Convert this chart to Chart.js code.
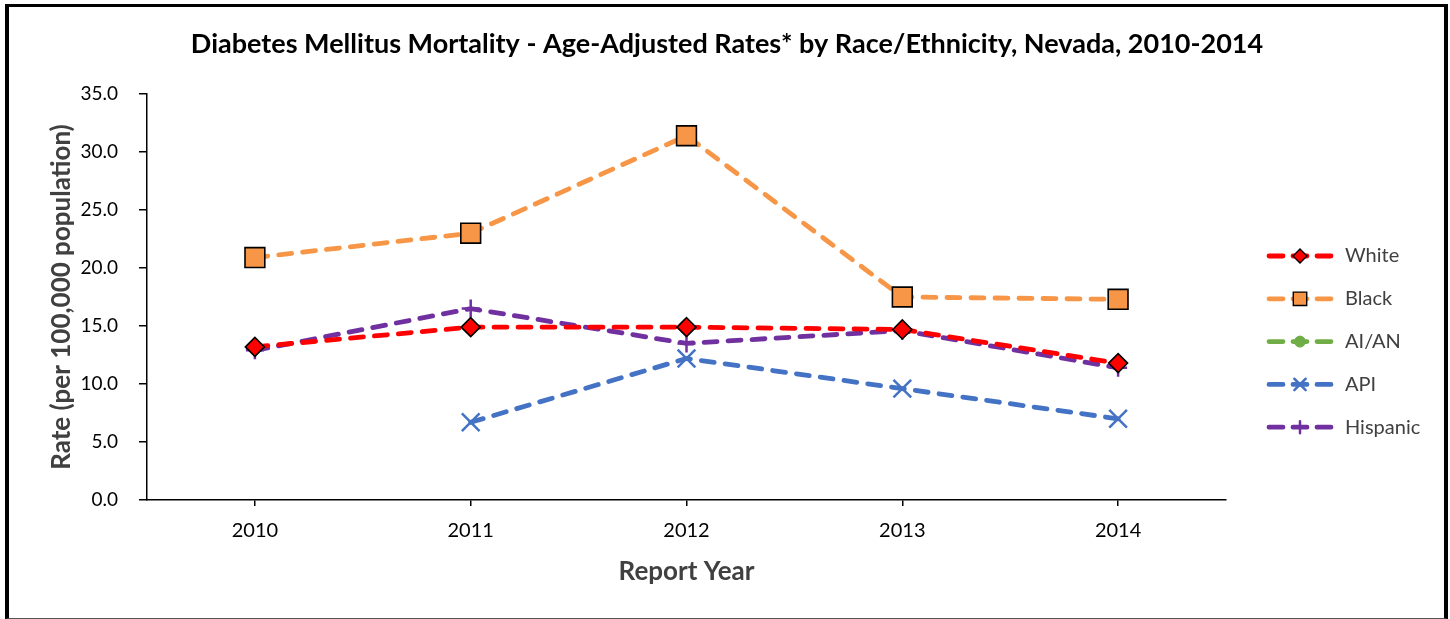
<!DOCTYPE html>
<html>
<head>
<meta charset="utf-8">
<script src="https://cdn.jsdelivr.net/npm/chart.js@4.4.1/dist/chart.umd.min.js"></script>
<style>
  html, body { margin: 0; padding: 0; background: #fff; }
  #wrap { position: relative; width: 1450px; height: 619px; overflow: hidden; }
  #c { position: absolute; left: 0; top: 0; }
  #frame { position: absolute; left: 5px; top: 4px; width: 1443px; height: 615px; box-sizing: border-box;
           border-left: 4px solid #000; border-top: 3px solid #000; border-right: 4px solid #000; border-bottom: 1px solid #555; pointer-events: none; }
</style>
</head>
<body>
<div id="wrap">
  <canvas id="c" width="1450" height="619"></canvas>
  <div id="frame"></div>
</div>
<script>
const years = ['2010', '2011', '2012', '2013', '2014'];
const seriesNames = ['White', 'Black', 'AI/AN', 'API', 'Hispanic'];
const white    = [13.2, 14.9, 14.9, 14.7, 11.8];
const black    = [20.9, 23.0, 31.4, 17.5, 17.3];
const aian     = [null, null, null, null, null];
const api      = [null, 6.7, 12.2, 9.6, 7.0];
const hispanic = [12.9, 16.5, 13.5, 14.6, 11.4];
const yTicks   = [0, 5, 10, 15, 20, 25, 30, 35];

const FONT = 'Lato, "Open Sans", "Liberation Sans", sans-serif';

function ds(label, data, color, style, radius, fill, border, bw) {
  return {
    label: label, data: data,
    borderColor: color, backgroundColor: color,
    borderWidth: 4.8, borderDash: [13, 11], borderCapStyle: 'round',
    pointStyle: style, pointRadius: radius, pointHoverRadius: radius,
    pointBackgroundColor: fill, pointBorderColor: border, pointBorderWidth: bw,
    tension: 0, spanGaps: false
  };
}

const datasets = [
  ds(seriesNames[0], white, '#FF0000', 'rectRot', 9.5, '#FF0000', '#000000', 1.6),
  ds(seriesNames[1], black, '#F79646', 'rect', 14, '#F79646', '#000000', 1.6),
  ds(seriesNames[2], aian, '#70AD47', 'circle', 6, '#70AD47', '#70AD47', 1),
  ds(seriesNames[3], api, '#4472C4', 'crossRot', 12.5, '#4472C4', '#4472C4', 2.5),
  ds(seriesNames[4], hispanic, '#7030A0', 'cross', 9, '#7030A0', '#7030A0', 2.5)
];

const legendMarkers = [
  { r: 7, w: 1.4 },
  { r: 9.5, w: 1.4 },
  { r: 5.5, w: 1 },
  { r: 8, w: 2.5 },
  { r: 6, w: 2.5 }
];

const titleCenter = {
  id: 'titleCenter',
  afterLayout(chart) {
    const t = chart.titleBlock;
    if (t) { t.left = 0; t.right = 1454; t.width = 1454; }
  }
};

const customLegend = {
  id: 'customLegend',
  afterDraw(chart) {
    const ctx = chart.ctx;
    const x0 = 1267, x1 = 1333, xm = 1300, xt = 1345;
    const y0 = 256, dy = 42.8;
    chart.data.datasets.forEach((d, i) => {
      const y = y0 + i * dy;
      ctx.save();
      ctx.strokeStyle = d.borderColor;
      ctx.lineWidth = 4.8;
      ctx.lineCap = 'round';
      ctx.setLineDash([14, 10]);
      ctx.beginPath();
      ctx.moveTo(x0 + 2, y);
      ctx.lineTo(x1 - 2, y);
      ctx.stroke();
      ctx.setLineDash([]);
      const m = legendMarkers[i];
      ctx.fillStyle = d.pointBackgroundColor;
      ctx.strokeStyle = d.pointBorderColor;
      ctx.lineWidth = m.w;
      Chart.helpers.drawPoint(ctx, { pointStyle: d.pointStyle, radius: m.r, borderWidth: m.w, rotation: 0 }, xm, y);
      ctx.fillStyle = '#404040';
      ctx.font = '20px ' + FONT;
      ctx.textAlign = 'left';
      ctx.textBaseline = 'middle';
      ctx.fillText(d.label, xt, y);
      ctx.restore();
    });
  }
};

new Chart(document.getElementById('c'), {
  type: 'line',
  data: { labels: years, datasets: datasets },
  plugins: [titleCenter, customLegend],
  options: {
    responsive: false,
    animation: false,
    layout: { padding: { left: 0, right: 1450 - 1226, top: 0, bottom: 0 } },
    plugins: {
      legend: { display: false },
      tooltip: { enabled: false },
      title: {
        display: true,
        text: 'Diabetes Mellitus Mortality - Age-Adjusted Rates* by Race/Ethnicity, Nevada, 2010-2014',
        color: '#000',
        font: { family: FONT, size: 27, weight: 'bold', lineHeight: 1.2 },
        padding: { top: 27.8, bottom: 33.8 }
      }
    },
    scales: {
      x: {
        offset: true,
        grid: { display: true, offset: false, drawOnChartArea: false, drawTicks: true, tickLength: 6, color: '#000', lineWidth: 1.5 },
        border: { display: true, color: '#000', width: 1.5 },
        ticks: { color: '#000', font: { family: FONT, size: 20 }, padding: 13, maxRotation: 0 },
        title: { display: true, text: 'Report Year', color: '#404040', font: { family: FONT, size: 26, weight: 'bold', lineHeight: 1.2 }, padding: { top: 0, bottom: 31.4 } },
        afterFit(scale) { scale.height = 619 - 500; }
      },
      y: {
        min: 0, max: 35,
        afterBuildTicks(scale) { scale.ticks = yTicks.map(v => ({ value: v })); },
        grid: { display: true, drawOnChartArea: false, drawTicks: true, tickLength: 8, color: '#000', lineWidth: 1.5 },
        border: { display: true, color: '#000', width: 1.5 },
        ticks: { color: '#000', font: { family: FONT, size: 19 }, padding: 21, callback: v => Number(v).toFixed(1) },
        title: { display: true, text: 'Rate (per 100,000 population)', color: '#404040', font: { family: FONT, size: 26, weight: 'bold', lineHeight: 1.2 }, padding: { top: 46.4, bottom: 0 } },
        afterFit(scale) { scale.width = 147; }
      }
    }
  }
});
</script>
</body>
</html>
